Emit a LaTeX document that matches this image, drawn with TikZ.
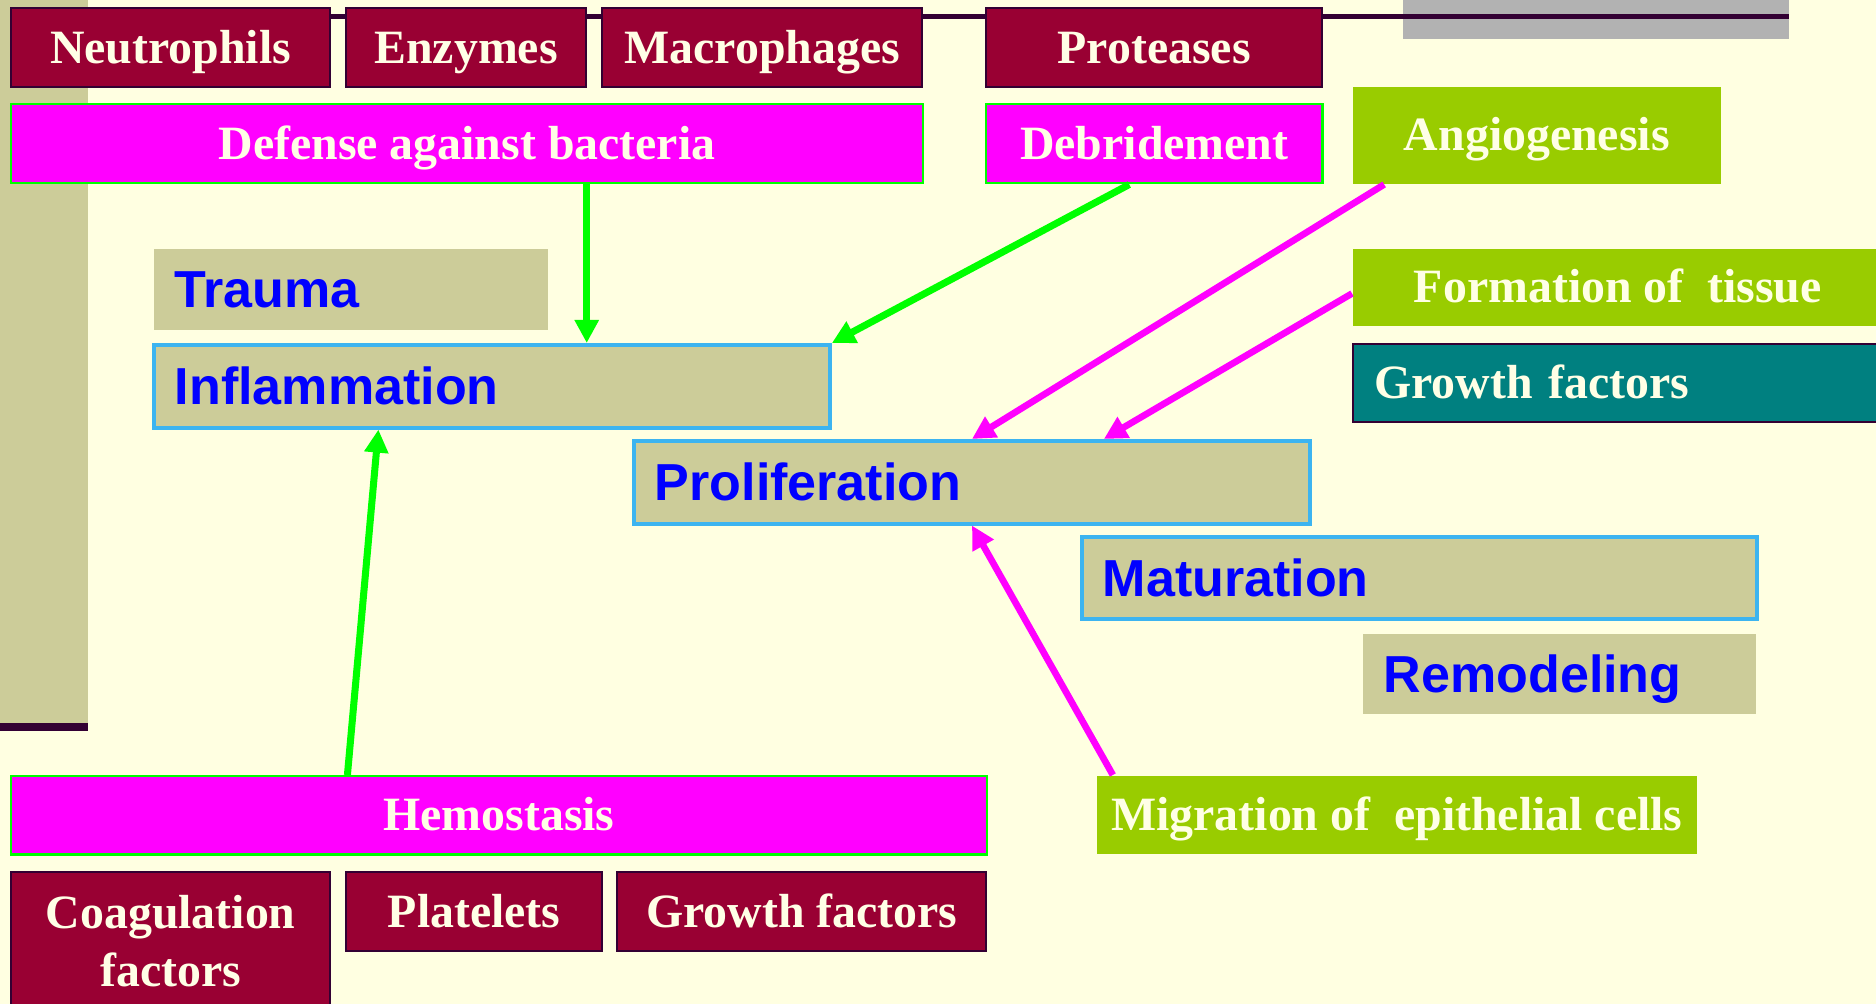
\documentclass[tikz,border=0pt]{standalone}
\usepackage{fontspec}
\setmainfont{Liberation Serif}
\newfontfamily\phasefont{Liberation Sans}
\usetikzlibrary{arrows.meta,calc}

\definecolor{slidebg}{HTML}{FFFFE1}
\definecolor{winered}{HTML}{990033}
\definecolor{darkplum}{HTML}{330033}
\definecolor{hotpink}{HTML}{FF00FF}
\definecolor{limeline}{HTML}{00FF00}
\definecolor{leaf}{HTML}{99CC00}
\definecolor{tealbox}{HTML}{008080}
\definecolor{khaki}{HTML}{CCCC99}
\definecolor{skyline}{HTML}{3CB4F0}
\definecolor{cream}{HTML}{FFFFE6}
\definecolor{bargray}{HTML}{B2B2B2}

\begin{document}
\begin{tikzpicture}[
		x=0.01cm, y=-0.01cm,
		every node/.style={anchor=north west, inner sep=0pt, minimum height=0.79cm},
		onerow/.style={text height=0.31cm, text depth=0pt},
		cellfill/.style={draw=darkplum, line width=0.6pt, fill=winered, text=cream, font=\fontsize{13.6}{16.5}\selectfont\bfseries},
		cellbox/.style={cellfill, onerow},
		goalbox/.style={draw=limeline, line width=0.7pt, fill=hotpink, text=cream, onerow, font=\fontsize{13.6}{16.5}\selectfont\bfseries},
		leafbox/.style={fill=leaf, text=cream, onerow, font=\fontsize{13.6}{16.5}\selectfont\bfseries},
		phasebox/.style={fill=khaki, text=blue, align=left, inner xsep=0.21cm, text height=0.37cm, text depth=0pt, font=\phasefont\fontsize{14.8}{17}\selectfont\bfseries},
		framed/.style={draw=skyline, line width=1pt},
		greenarrow/.style={draw=limeline, line width=2pt, -{Triangle[length=0.23cm,width=0.23cm]}},
		pinkarrow/.style={draw=hotpink, line width=1.9pt, -{Triangle[length=0.23cm,width=0.23cm]}},
		]
		\clip (0,0) rectangle (1876,1004);
		\fill[slidebg] (0,0) rectangle (1876,1004);
		% slide decoration
		\fill[khaki] (0,0) rectangle (88,724);
		\fill[darkplum] (0,723) rectangle (88,731);
		\fill[bargray] (1403,0) rectangle (1789,39);
		\draw[darkplum, line width=1.4pt] (88,16.5) -- (1789,16.5);

		% top row
		\node[cellbox, minimum width=3.19cm] (neutro) at (10,7) {Neutrophils};
		\node[cellbox, minimum width=2.40cm] (enzyme) at (345,7) {Enzymes};
		\node[cellbox, minimum width=3.20cm] (macro) at (601,7) {Macrophages};
		\node[cellbox, minimum width=3.36cm] (protease) at (985,7) {Proteases};
		\node[goalbox, minimum width=9.11cm] (defense) at (10,103) {Defense against bacteria};
		\node[goalbox, minimum width=3.36cm] (debride) at (985,103) {Debridement};
		\node[leafbox, minimum width=3.68cm, minimum height=0.97cm] (angio) at (1352,86) {Angiogenesis};
		\node[leafbox, minimum width=5.30cm, minimum height=0.77cm] (tissue) at (1352,248) {Formation of\ \ tissue};
		\node[draw=darkplum, line width=0.6pt, fill=tealbox, text=cream, align=left, inner xsep=0.21cm, onerow,
			font=\fontsize{13.6}{16.5}\selectfont\bfseries, minimum height=0.78cm, text width=4.90cm] (growth) at (1352,343) {Growth factors};

		% phases
		\node[phasebox, minimum width=3.94cm, minimum height=0.81cm, text width=3.52cm] (trauma) at (153,248) {Trauma};
		\node[phasebox, framed, minimum width=6.76cm, minimum height=0.83cm, text width=6.34cm] (inflam) at (152,343) {Inflammation};
		\node[phasebox, framed, minimum width=6.76cm, minimum height=0.83cm, text width=6.34cm] (prolif) at (632,439) {Proliferation};
		\node[phasebox, framed, minimum width=6.75cm, minimum height=0.82cm, text width=6.33cm] (matur) at (1080,535) {Maturation};
		\node[phasebox, minimum width=3.93cm, minimum height=0.80cm, text width=3.51cm] (remodel) at (1362,633) {Remodeling};

		% bottom rows
		\node[leafbox, minimum width=6.00cm, minimum height=0.78cm] (migrate) at (1096,775) {Migration of\ \ epithelial cells};
		\node[goalbox, minimum width=9.75cm, minimum height=0.78cm] (hemo) at (10,775) {Hemostasis};
		\node[cellfill, minimum width=3.19cm, minimum height=1.38cm, align=center] (coag) at (10,871) {Coagulation\\factors};
		\node[cellbox, minimum width=2.56cm] (platelet) at (345,871) {Platelets};
		\node[cellbox, minimum width=3.69cm] (growbot) at (616,871) {Growth factors};

		% connectors
		\coordinate (drop) at ($(defense.south west)!0.631!(defense.south east)$);
		\draw[greenarrow] (drop) -- (drop |- inflam.north);
		\draw[greenarrow] ($(debride.south west)!0.426!(debride.south east)$) -- (inflam.north east);
		\draw[greenarrow] ($(hemo.north west)!0.345!(hemo.north east)$) -- ($(inflam.south west)!0.333!(inflam.south east)$);
		\draw[pinkarrow] ($(angio.south west)!0.087!(angio.south east)$) -- (prolif.north);
		\draw[pinkarrow] ($(tissue.north west)!0.58!(tissue.south west)$) -- ($(prolif.north west)!0.694!(prolif.north east)$);
		\draw[pinkarrow] ($(migrate.north west)!0.028!(migrate.north east)$) -- (prolif.south);
	\end{tikzpicture}
\end{document}
